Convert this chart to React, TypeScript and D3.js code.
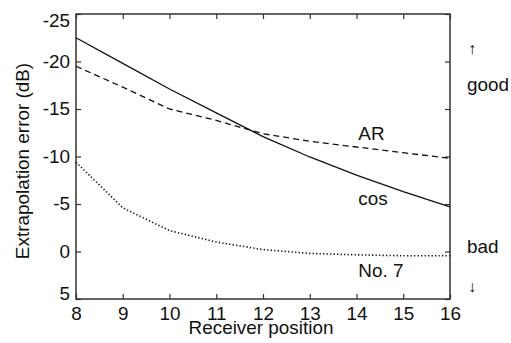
import { useEffect, useRef } from 'react'
import * as d3 from 'd3'

const positions = [8, 9, 10, 11, 12, 13, 14, 15, 16]
const cosErr = [-22.5, -19.8, -17.1, -14.6, -12.1, -9.95, -8.05, -6.3, -4.7]
const arErr = [-19.5, -17.3, -15.0, -13.8, -12.4, -11.6, -11.0, -10.4, -9.8]
const no7Err = [-9.4, -4.6, -2.2, -1.0, -0.2, 0.2, 0.35, 0.45, 0.45]
const xTicks = [8, 9, 10, 11, 12, 13, 14, 15, 16]
const yTicks = [-25, -20, -15, -10, -5, 0, 5]

const FONT = '"Liberation Sans", Arial, Helvetica, sans-serif'
const FS = 17.5
const STRETCH = 1.08 // the scanned lettering is a bit wider than Arial

export default function App() {
  const svgRef = useRef<SVGSVGElement>(null)

  useEffect(() => {
    const W = 511
    const H = 343
    const margin = { top: 14, right: 61, bottom: 44, left: 76 }
    const innerW = W - margin.left - margin.right
    const innerH = H - margin.top - margin.bottom

    const x = d3.scaleLinear().domain([8, 16]).range([0, innerW])
    const y = d3.scaleLinear().domain([-25, 5]).range([0, innerH])

    const svg = d3.select(svgRef.current)
    svg.selectAll('*').remove()
    svg.attr('width', W).attr('height', H)

    const g = svg.append('g').attr('transform', `translate(${margin.left},${margin.top})`)
    const axisColor = '#333'

    // text drawn at (tx,ty), widened along its own direction
    const addText = (parent: any, tx: number, ty: number, str: string, anchor = 'start', rot = 0, size = FS) =>
      parent.append('text')
        .attr('transform', `translate(${tx},${ty}) rotate(${rot}) scale(${STRETCH},1)`)
        .attr('text-anchor', anchor)
        .attr('font-size', size)
        .attr('font-family', FONT)
        .attr('fill', '#111')
        .text(str)

    const styleAxis = (ax: any) => {
      ax.select('.domain').remove()
      ax.selectAll('line').attr('stroke', axisColor).attr('stroke-width', 1.2)
      ax.selectAll('text')
        .attr('fill', '#111')
        .attr('font-size', FS)
        .attr('font-family', FONT)
    }

    const widen = (ax: any) =>
      ax.selectAll('text').each(function (this: SVGTextElement) {
        const t = d3.select(this)
        const tx = +(t.attr('x') || 0)
        const ty = +(t.attr('y') || 0)
        t.attr('x', 0).attr('y', 0).attr('transform', `translate(${tx},${ty}) scale(${STRETCH},1)`)
      })

    const fmt = (d: any) => String(d)

    // bottom axis
    g.append('g')
      .attr('transform', `translate(0,${innerH})`)
      .call(d3.axisBottom(x).tickValues(xTicks).tickSizeInner(-5).tickSizeOuter(0).tickPadding(9).tickFormat(fmt))
      .call(styleAxis)
      .call(widen)

    // top axis (ticks only)
    g.append('g')
      .call(d3.axisTop(x).tickValues(xTicks).tickSizeInner(-5).tickSizeOuter(0).tickFormat(() => ''))
      .call(styleAxis)

    // left axis
    g.append('g')
      .call(d3.axisLeft(y).tickValues(yTicks).tickSizeInner(-5).tickSizeOuter(0).tickPadding(6).tickFormat(fmt))
      .call(styleAxis)
      .call((ax: any) =>
        ax.selectAll('text').attr('y', (d: number) => {
          if (d === -25) return 7
          if (d === 5) return -5
          return 0
        })
      )
      .call(widen)

    // right axis (ticks only)
    g.append('g')
      .attr('transform', `translate(${innerW},0)`)
      .call(d3.axisRight(y).tickValues(yTicks).tickSizeInner(-5).tickSizeOuter(0).tickFormat(() => ''))
      .call(styleAxis)

    // frame
    g.append('rect')
      .attr('width', innerW)
      .attr('height', innerH)
      .attr('fill', 'none')
      .attr('stroke', axisColor)
      .attr('stroke-width', 1.5)

    const line = d3.line<[number, number]>()
      .x((d) => x(d[0]))
      .y((d) => y(d[1]))

    const series = [
      { values: cosErr, dash: null, width: 1.3 },
      { values: arErr, dash: '6,4', width: 1.3 },
      { values: no7Err, dash: '1.3,2.2', width: 1.6 },
    ]

    series.forEach((s) => {
      g.append('path')
        .datum(positions.map((p, i) => [p, s.values[i]] as [number, number]))
        .attr('d', line)
        .attr('fill', 'none')
        .attr('stroke', '#111')
        .attr('stroke-width', s.width)
        .attr('stroke-dasharray', s.dash)
    })

    // series labels
    const labels = [
      { text: 'AR', v: -11.7 },
      { text: 'cos', v: -4.9 },
      { text: 'No. 7', v: 2.7 },
    ]
    labels.forEach((l) => addText(g, x(14.04), y(l.v), l.text))

    // good / bad annotations
    addText(svg, 472.5, 54, '↑', 'middle', 0, 16)
    addText(svg, 467, 91, 'good')
    addText(svg, 467, 253, 'bad')
    addText(svg, 472.5, 292, '↓', 'middle', 0, 16)

    // axis titles
    addText(svg, 261, 334, 'Receiver position', 'middle')
    addText(svg, 29, 161, 'Extrapolation error (dB)', 'middle', -90)
  }, [])

  return (
    <div style={{ position: 'absolute', left: 0, top: 0, background: '#fff' }}>
      <svg ref={svgRef} style={{ display: 'block' }} />
    </div>
  )
}
